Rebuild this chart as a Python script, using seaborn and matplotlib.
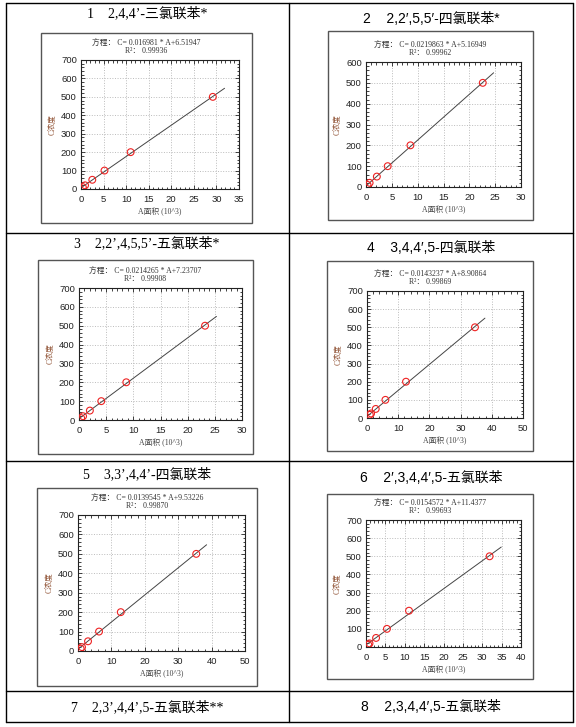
import numpy as np
import pandas as pd
import seaborn as sns
import matplotlib.pyplot as plt
from matplotlib.patches import Rectangle
from matplotlib.ticker import MultipleLocator

sns.set_style("ticks")
plt.rcParams['font.family'] = ['Liberation Sans', 'Noto Sans CJK SC', 'DejaVu Sans']

# ---- data ----
titles = [
    "1    2,4,4’-三氯联苯*",
    "2    2,2′,5,5′-四氯联苯*",
    "3    2,2’,4,5,5’-五氯联苯*",
    "4    3,4,4′,5-四氯联苯",
    "5    3,3’,4,4’-四氯联苯",
    "6    2′,3,4,4′,5-五氯联苯",
    "7    2,3’,4,4’,5-五氯联苯**",
    "8    2,3,4,4′,5-五氯联苯",
]
serif_title = [True, False, True, False, True, False, True, False]

eq_slope = [0.016981, 0.0219863, 0.0214265, 0.0143237, 0.0139545, 0.0154572]
eq_intercept = [6.51947, 5.16949, 7.23707, 8.90864, 9.53226, 11.4377]
r_squared = ["0.99936", "0.99962", "0.99908", "0.99869", "0.99870", "0.99693"]

area_1 = [0.4, 0.9, 2.5, 5.2, 11.0, 29.2]
conc_1 = [10, 20, 50, 100, 200, 500]
area_2 = [0.3, 0.7, 2.1, 4.2, 8.6, 22.6]
conc_2 = [10, 20, 50, 100, 200, 500]
area_3 = [0.4, 0.75, 2.0, 4.1, 8.7, 23.2]
conc_3 = [10, 20, 50, 100, 200, 500]
area_4 = [0.9, 1.3, 2.8, 5.9, 12.5, 34.6]
conc_4 = [18, 25, 50, 100, 200, 500]
area_5 = [0.8, 1.2, 3.0, 6.3, 12.8, 35.4]
conc_5 = [12, 20, 50, 100, 200, 500]
area_6 = [0.6, 0.9, 2.6, 5.4, 11.1, 31.9]
conc_6 = [12, 20, 50, 100, 200, 500]
areas = [area_1, area_2, area_3, area_4, area_5, area_6]
concs = [conc_1, conc_2, conc_3, conc_4, conc_5, conc_6]

fit_end = [31.8, 24.7, 25.3, 37.8, 38.5, 34.9]
x_max = [35, 30, 30, 50, 50, 40]
x_step = [5, 5, 5, 10, 10, 5]
y_max = [700, 600, 700, 700, 700, 700]

# ---- layout in pixels (left, top, right, bottom) ----
W, H = 576, 727
axes_box = [(81, 60, 239, 189), (366, 62, 521, 187),
            (79, 288, 242, 420), (367, 291, 523, 418),
            (78, 515, 245, 651), (366, 520, 521, 647)]
frame_box = [(41, 33, 252, 223), (328, 31, 533, 220),
             (38, 260, 253, 454), (327, 261, 533, 451),
             (37, 488, 257, 686), (327, 494, 533, 679)]
title_pos = [(147, 13), (431, 19), (147, 243), (431, 248),
             (147, 474), (431, 478), (147, 707), (431, 707)]

fig = plt.figure(figsize=(W / 100, H / 100), dpi=100)
bg = fig.add_axes([0, 0, 1, 1])
bg.set_xlim(0, W)
bg.set_ylim(H, 0)
bg.axis('off')

# table grid
for y in [3, 233, 461, 691, 722]:
    bg.plot([6, 573], [y, y], color='black', lw=1.0)
for x in [6, 289, 573]:
    bg.plot([x, x], [3, 722], color='black', lw=1.0)

serif_fam = ['Liberation Serif', 'Noto Sans CJK SC', 'DejaVu Sans']
sans_fam = ['Liberation Sans', 'Noto Sans CJK SC', 'DejaVu Sans']

for i, t in enumerate(titles):
    bg.text(title_pos[i][0], title_pos[i][1], t, ha='center', va='center',
            fontsize=10, family=serif_fam if serif_title[i] else sans_fam,
            color='black')

for i in range(6):
    l, t, r, b = frame_box[i]
    bg.add_patch(Rectangle((l, t), r - l, b - t, fill=False,
                           edgecolor='#555555', lw=1.0))
    al, at, ar, ab = axes_box[i]
    cx = (l + r) / 2
    bg.text(cx, at - 16, "方程： C= %s * A+%s" % (eq_slope[i], eq_intercept[i]),
            ha='center', va='center', fontsize=5.6, family=serif_fam, color='#333333')
    bg.text(cx, at - 9, "R²： %s" % r_squared[i],
            ha='center', va='center', fontsize=5.6, family=serif_fam, color='#333333')

    ax = fig.add_axes([al / W, 1 - ab / H, (ar - al) / W, (ab - at) / H])
    pts = pd.DataFrame({'A': areas[i], 'C': concs[i]})
    fit = pd.DataFrame({'A': [0, fit_end[i]]})
    fit['C'] = eq_slope[i] * 1000 * fit['A'] + eq_intercept[i]

    sns.lineplot(data=fit, x='A', y='C', ax=ax, color='#444444', lw=0.7)
    sns.scatterplot(data=pts, x='A', y='C', ax=ax, marker='o', s=24,
                    facecolor='none', edgecolor='#ee2222', linewidth=0.8, zorder=3)

    ax.set_xlim(0, x_max[i])
    ax.set_ylim(0, y_max[i])
    ax.xaxis.set_major_locator(MultipleLocator(x_step[i]))
    ax.xaxis.set_minor_locator(MultipleLocator(x_step[i] / 5))
    ax.yaxis.set_major_locator(MultipleLocator(100))
    ax.yaxis.set_minor_locator(MultipleLocator(20))
    ax.grid(True, which='major', linestyle=':', color='#bbbbbb', lw=0.7)
    ax.tick_params(which='both', direction='in', top=True, right=True,
                   labelsize=6.8, labelcolor='#222222', color='#222222', width=0.6)
    ax.tick_params(which='major', length=3)
    ax.tick_params(which='minor', length=1.8)
    ax.tick_params(axis='x', which='major', pad=4)
    ax.tick_params(axis='y', which='major', pad=3)
    for sp in ax.spines.values():
        sp.set_linewidth(0.8)
        sp.set_color('#222222')
    ax.set_xlabel("A面积 (10^3)", fontsize=5.6, family=serif_fam,
                  color='#444444', labelpad=3)
    ax.set_ylabel("C浓度", fontsize=5.6, family=serif_fam,
                  color='#8b4a2b', labelpad=3)

fig.savefig('out.png', dpi=100)
